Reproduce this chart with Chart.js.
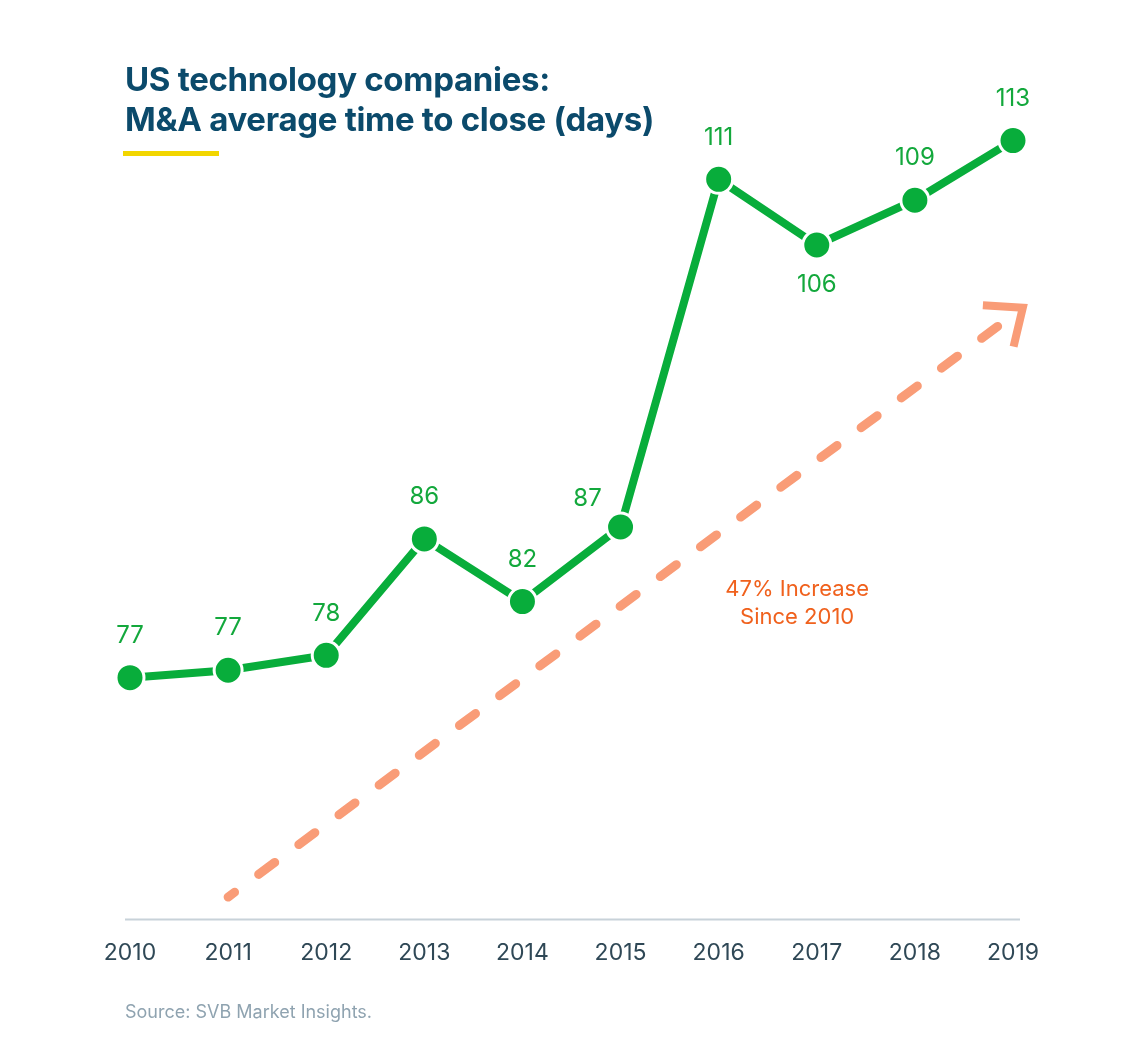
<!DOCTYPE html>
<html>
<head>
<meta charset="utf-8">
<script src="https://cdn.jsdelivr.net/npm/chart.js@4/dist/chart.umd.min.js"></script>
<style>
  html, body { margin: 0; padding: 0; background: #fff; }
  body { width: 1146px; height: 1042px; position: relative; overflow: hidden; font-family: Inter, "Noto Sans", sans-serif; }
  #wrap { position: absolute; left: 0; top: 0; width: 1146px; height: 1042px; }
  .title { position: absolute; left: 125px; top: 59px; color: #0b4a6b; font-weight: 700; font-size: 33px; line-height: 40px; letter-spacing: -0.3px; }
  .bar { position: absolute; left: 123px; top: 151px; width: 96px; height: 5px; background: #f2d600; }
  .source { position: absolute; left: 125px; top: 1001px; color: #8fa3b0; font-size: 18px; }
</style>
</head>
<body>
<div id="wrap"><canvas id="lineChart"></canvas></div>
<div class="title">US technology companies:<br>M&amp;A average time to close (days)</div>
<div class="bar"></div>
<div class="source">Source: SVB Market Insights.</div>
<script>
// Chart data
const years = ['2010', '2011', '2012', '2013', '2014', '2015', '2016', '2017', '2018', '2019'];
const closeDays = [77.0, 77.5, 78.5, 86.3, 82.1, 87.1, 110.4, 106.0, 109.0, 113.0];
// labels as printed on the chart
const shownDays = ['77', '77', '78', '86', '82', '87', '111', '106', '109', '113'];
const labelBelow = ['2017'];
const labelLeft = ['2015'];

// Trend arrow, in chart values (category index, days)
const arrowFrom = [1.0, 62.3];
const arrowTo = [9.1, 101.8];
const arrowText = ['47% Increase', 'Since 2010'];
const arrowTextAt = [6.8, 82.9];

const green = '#08ad3b';

// Baseline a bit wider than the plot
const baseline = {
  id: 'baseline',
  beforeDatasetsDraw(chart) {
    const { ctx, chartArea } = chart;
    ctx.save();
    ctx.strokeStyle = '#c8d2d9';
    ctx.lineWidth = 2;
    ctx.beginPath();
    ctx.moveTo(chartArea.left - 5, chartArea.bottom);
    ctx.lineTo(chartArea.right + 7, chartArea.bottom);
    ctx.stroke();
    ctx.restore();
  }
};

// Value labels above / below each point
const pointLabels = {
  id: 'pointLabels',
  afterDatasetsDraw(chart) {
    const ctx = chart.ctx;
    const meta = chart.getDatasetMeta(0);
    ctx.save();
    ctx.font = '400 24px Inter, sans-serif';
    ctx.fillStyle = '#13a83c';
    ctx.textAlign = 'center';
    ctx.textBaseline = 'middle';
    meta.data.forEach((pt, i) => {
      let x = pt.x, y = pt.y - 42;
      if (labelBelow.includes(years[i])) y = pt.y + 40;
      if (labelLeft.includes(years[i])) { x = pt.x - 33; y = pt.y - 28; }
      ctx.fillText(shownDays[i], x, y);
    });
    ctx.restore();
  }
};

// Dashed trend arrow with note
const trendArrow = {
  id: 'trendArrow',
  beforeDatasetsDraw(chart) {
    const ctx = chart.ctx;
    const xs = chart.scales.x, ys = chart.scales.y;
    const x1 = xs.getPixelForValue(arrowFrom[0]), y1 = ys.getPixelForValue(arrowFrom[1]);
    const x2 = xs.getPixelForValue(arrowTo[0]), y2 = ys.getPixelForValue(arrowTo[1]);
    ctx.save();
    ctx.strokeStyle = '#f99c77';
    ctx.lineWidth = 9;
    ctx.lineCap = 'round';
    ctx.setLineDash([20, 30]);
    ctx.lineDashOffset = 12;
    ctx.beginPath();
    ctx.moveTo(x1, y1);
    ctx.lineTo(x2 - 12, y2 + 9);
    ctx.stroke();

    // head
    const ang = Math.atan2(y2 - y1, x2 - x1);
    const len = 40;
    ctx.setLineDash([]);
    ctx.lineCap = 'butt';
    ctx.lineJoin = 'miter';
    ctx.lineWidth = 8;
    ctx.beginPath();
    ctx.moveTo(x2 + len * Math.cos(ang + Math.PI - 0.7), y2 + len * Math.sin(ang + Math.PI - 0.7));
    ctx.lineTo(x2, y2);
    ctx.lineTo(x2 + len * Math.cos(ang + Math.PI + 0.7), y2 + len * Math.sin(ang + Math.PI + 0.7));
    ctx.stroke();

    ctx.font = '400 22px Inter, sans-serif';
    ctx.fillStyle = '#f0611d';
    ctx.textAlign = 'center';
    ctx.textBaseline = 'middle';
    const tx = xs.getPixelForValue(arrowTextAt[0]), ty = ys.getPixelForValue(arrowTextAt[1]);
    ctx.fillText(arrowText[0], tx, ty);
    ctx.fillText(arrowText[1], tx, ty + 28);
    ctx.restore();
  }
};

const ctx = document.getElementById('lineChart').getContext('2d');
new Chart(ctx, {
  type: 'line',
  data: {
    labels: years,
    datasets: [{
      data: closeDays,
      borderColor: green,
      borderWidth: 8,
      pointRadius: 14,
      pointBackgroundColor: green,
      pointBorderColor: '#fff',
      pointBorderWidth: 3,
      tension: 0,
      clip: false
    }]
  },
  options: {
    responsive: true,
    maintainAspectRatio: false,
    animation: false,
    layout: { padding: { left: 130, right: 133, top: 60, bottom: 55 } },
    plugins: { legend: { display: false }, tooltip: { enabled: false } },
    scales: {
      x: {
        offset: false,
        grid: { display: false, drawTicks: false },
        border: { display: false },
        ticks: { color: '#2f4856', padding: 20, font: { family: 'Inter', size: 23 } }
      },
      y: {
        display: false,
        min: 60.8,
        max: 118.4
      }
    }
  },
  plugins: [baseline, trendArrow, pointLabels]
});
</script>
</body>
</html>
